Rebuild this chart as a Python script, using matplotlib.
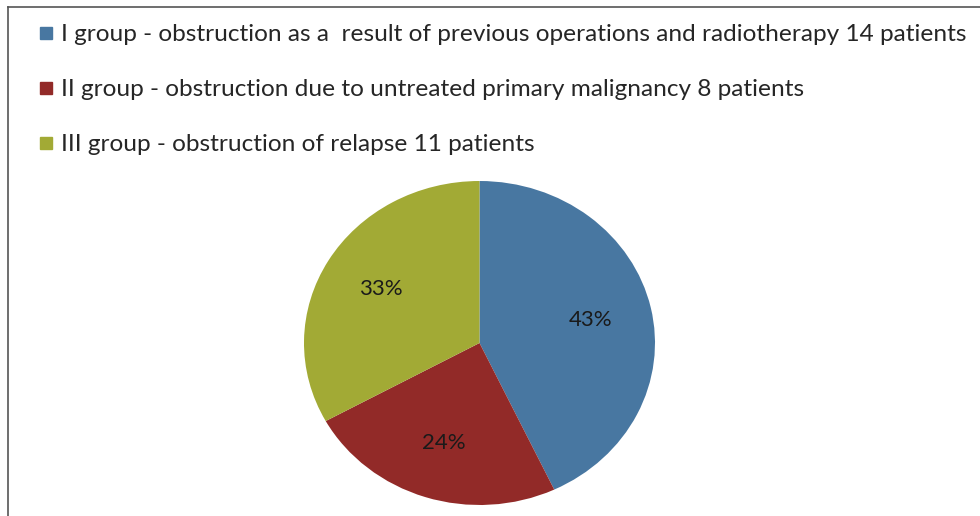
import matplotlib
matplotlib.use("Agg")
import matplotlib.pyplot as plt
from matplotlib.lines import Line2D

plt.rcParams['font.family'] = ['Lato', 'DejaVu Sans']

groups = [
    "I group - obstruction as a  result of previous operations and radiotherapy 14 patients",
    "II group - obstruction due to untreated primary malignancy 8 patients",
    "III group - obstruction of relapse 11 patients",
]
shares = [43, 24, 33]
colors = ["#4877A1", "#922A28", "#A2AA35"]
text_color = "#262626"

fig = plt.figure(figsize=(9.8, 5.16), dpi=100)

# pie area (slightly wider than tall)
ax = fig.add_axes([304 / 980, 11 / 516, 351 / 980, 324 / 516])
wedges, _, autotexts = ax.pie(
    shares, colors=colors, startangle=90, counterclock=False,
    autopct=lambda p: f"{p:.0f}%", pctdistance=0.65,
    wedgeprops=dict(linewidth=0),
    textprops=dict(fontsize=16, color="#1a1a1a"),
)
ax.set_aspect("auto")
ax.set_xlim(-1, 1)
ax.set_ylim(-1, 1)
ax.axis("off")

# legend rows
handles = [Line2D([], [], marker="s", linestyle="none", markersize=8.5,
                  markerfacecolor=c, markeredgecolor=c) for c in colors]
fig.legend(handles, groups, loc="upper left", bbox_to_anchor=(38 / 980, 1 - 24 / 516),
           frameon=False, fontsize=17.6, labelcolor=text_color,
           handlelength=0.65, handletextpad=0.3, labelspacing=1.39, borderpad=0,
           borderaxespad=0)

# chart frame (top and left edges)
fig.add_artist(Line2D([8 / 980, 1], [1 - 7 / 516, 1 - 7 / 516], color="#555555", lw=1.2,
                      transform=fig.transFigure))
fig.add_artist(Line2D([8 / 980, 8 / 980], [0, 1 - 7 / 516], color="#555555", lw=1.2,
                      transform=fig.transFigure))

fig.savefig("out.png", dpi=100, facecolor="white")
